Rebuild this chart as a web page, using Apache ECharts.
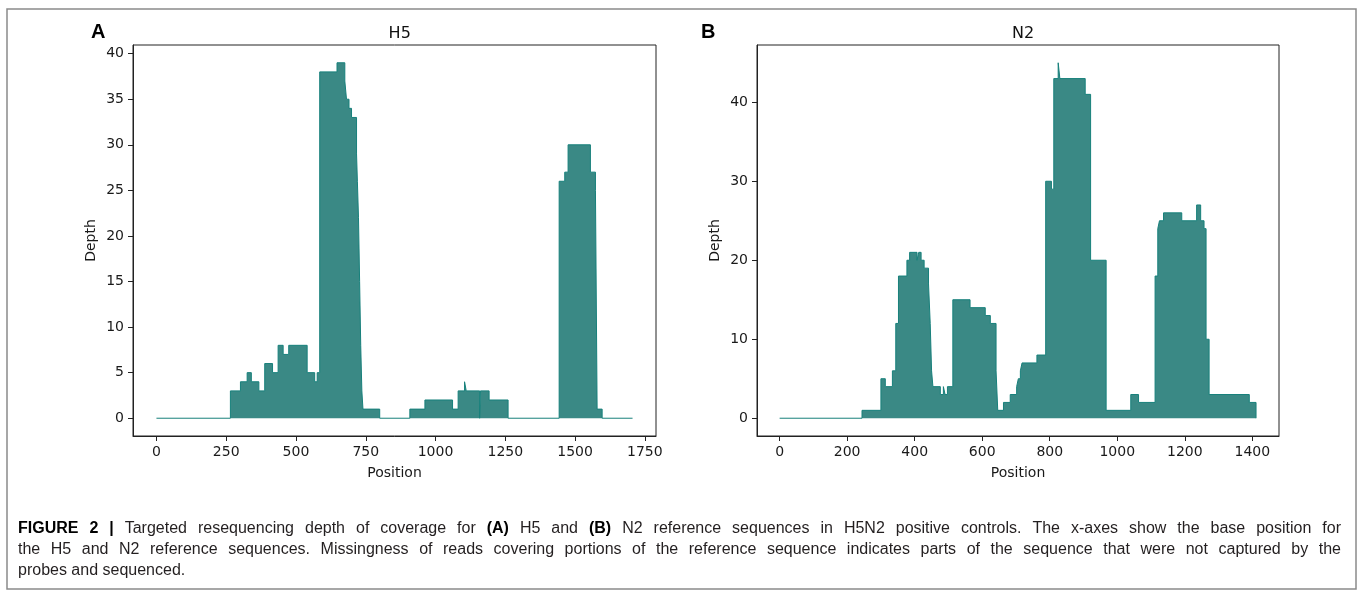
<!DOCTYPE html>
<html>
<head>
<meta charset="utf-8">
<script src="https://cdn.jsdelivr.net/npm/echarts@6/dist/echarts.min.js"></script>
<style>html,body{margin:0;padding:0;background:#fff;}#c{width:1358px;height:591px;}</style>
</head>
<body>
<div id="c"></div>
<script>
// ---- Data ----
// H5 coverage: position where depth changes, and depth from that position on
const h5Pos   = [0, 265, 301, 325, 340, 367, 388, 416, 436, 454, 474, 540, 567, 576, 585, 647, 675, 681, 690, 699, 717, 720, 724, 728, 732, 736, 740, 800, 908, 962, 1061, 1081, 1104, 1110, 1158, 1161, 1192, 1260, 1443, 1463, 1475, 1555, 1573, 1579, 1597, 1706];
const h5Depth = [0,   3,   4,   5,   4,   3,   6,   5,   8,   7,   8,   5,   4,   5,  38,  39,  37,  35,  34,  33,  29,  26,  22,  15,   8,   3,   1,   0,   1,   2,    1,    3,    4,    3,    0,    3,    2,    0,   26,   27,   30,   27,   25,    1,    0,    0];
// N2 coverage
const n2Pos   = [0, 244, 300, 313, 334, 344, 352, 377, 385, 407, 412, 419, 428, 441, 446, 450, 454, 476, 485, 490, 497, 513, 564, 609, 624, 641, 646, 663, 683, 702, 707, 713, 718, 762, 788, 805, 812, 825, 830, 905, 921, 967, 1040, 1063, 1112, 1120, 1125, 1137, 1191, 1235, 1247, 1257, 1263, 1272, 1391, 1411];
const n2Depth = [0,   1,   5,   4,   6,  12,  18,  20,  21,  20,  21,  20,  19,  17,  12,   6,   4,   3,   4,   3,   4,  15,  14,  13,  12,   6,   1,   2,   3,   4,   5,   6,   7,   8,  30,  29,  43,  45,  43,  41,  20,   1,    3,    2,   18,   24,   25,   26,   25,   27,   25,   24,   10,    3,    2,    0];
// Tick labels
const h5XTicks = [0, 250, 500, 750, 1000, 1250, 1500, 1750];
const h5YTicks = [0, 5, 10, 15, 20, 25, 30, 35, 40];
const n2XTicks = [0, 200, 400, 600, 800, 1000, 1200, 1400];
const n2YTicks = [0, 10, 20, 30, 40];
const titles = ['H5', 'N2'];
const panelLetters = ['A', 'B'];
// Caption lines; words wrapped in *...* are bold
const captionLines = [
  '*FIGURE* *2* *|* Targeted resequencing depth of coverage for *(A)* H5 and *(B)* N2 reference sequences in H5N2 positive controls. The x-axes show the base position for',
  'the H5 and N2 reference sequences. Missingness of reads covering portions of the reference sequence indicates parts of the sequence that were not captured by the',
  'probes and sequenced.'
];

// ---- Build chart ----
const fillColor = '#3a8985';
const edgeColor = '#17807b';
const tickFont = {fontFamily: 'DejaVu Sans', fontSize: 14, color: '#1a1a1a'};

function pairs(pos, dep) { return pos.map((p, i) => [p, dep[i]]); }

function xAxis(gridIndex, min, max, ticks) {
  return {
    type: 'value', gridIndex, min, max,
    name: 'Position', nameLocation: 'middle', nameGap: 30,
    nameTextStyle: {fontFamily: 'DejaVu Sans', fontSize: 14, color: '#1a1a1a'},
    axisLine: {show: true, onZero: false, lineStyle: {color: '#222', width: 1}},
    axisTick: {show: true, length: 5, customValues: ticks, lineStyle: {color: '#222'}},
    axisLabel: Object.assign({margin: 9, customValues: ticks, formatter: v => String(v)}, tickFont),
    splitLine: {show: false}
  };
}
function yAxis(gridIndex, min, max, ticks) {
  return {
    type: 'value', gridIndex, min, max,
    name: 'Depth', nameLocation: 'middle', nameGap: 35, nameRotate: 90,
    nameTextStyle: {fontFamily: 'DejaVu Sans', fontSize: 14, color: '#1a1a1a'},
    axisLine: {show: true, onZero: false, lineStyle: {color: '#222', width: 1}},
    axisTick: {show: true, length: 5, customValues: ticks, lineStyle: {color: '#222'}},
    axisLabel: Object.assign({margin: 9, customValues: ticks, formatter: v => String(v)}, tickFont),
    splitLine: {show: false}
  };
}

// Justified caption layout (word positions measured with canvas)
const capFamily = '"Liberation Sans"';
const capSize = 16;
const capColor = '#231f20';
const capLeft = 18, capRight = 1341, capTop = 521, capLineStep = 21;
const mctx = document.createElement('canvas').getContext('2d');
function fontFor(bold) { return (bold ? 'bold ' : '') + capSize + 'px ' + capFamily; }
const captionGraphics = [];
captionLines.forEach((line, li) => {
  const words = line.split(' ').map(w => {
    const bold = w.startsWith('*') && w.endsWith('*');
    const t = bold ? w.slice(1, -1) : w;
    mctx.font = fontFor(bold);
    return {t, bold, w: mctx.measureText(t).width};
  });
  mctx.font = fontFor(false);
  const normalSpace = mctx.measureText(' ').width;
  const total = words.reduce((s, w) => s + w.w, 0);
  const last = li === captionLines.length - 1;
  const gap = last ? normalSpace : (capRight - capLeft - total) / (words.length - 1);
  let x = capLeft;
  words.forEach(w => {
    captionGraphics.push({type: 'text', x, y: capTop + li * capLineStep, silent: true,
      style: {text: w.t, font: fontFor(w.bold), fill: w.bold ? '#000' : capColor}});
    x += w.w + gap;
  });
});

const chart = echarts.init(document.getElementById('c'), null, {renderer: 'canvas'});

chart.setOption({
  animation: false,
  backgroundColor: '#fff',
  title: [
    {text: titles[0], left: 394.7, top: 21, textAlign: 'center', textStyle: {fontFamily: 'DejaVu Sans', fontSize: 16, fontWeight: 'normal', color: '#111'}},
    {text: titles[1], left: 1018, top: 21, textAlign: 'center', textStyle: {fontFamily: 'DejaVu Sans', fontSize: 16, fontWeight: 'normal', color: '#111'}}
  ],
  grid: [
    {left: 133, top: 45, width: 523, height: 391, show: true, borderColor: '#222', borderWidth: 1, containLabel: false},
    {left: 757, top: 45, width: 522, height: 391, show: true, borderColor: '#222', borderWidth: 1, containLabel: false}
  ],
  xAxis: [xAxis(0, -84, 1790, h5XTicks), xAxis(1, -67, 1479, n2XTicks)],
  yAxis: [yAxis(0, -1.95, 40.95, h5YTicks), yAxis(1, -2.25, 47.25, n2YTicks)],
  series: [
    {type: 'line', xAxisIndex: 0, yAxisIndex: 0, step: 'end', showSymbol: false, data: pairs(h5Pos, h5Depth),
     lineStyle: {color: edgeColor, width: 1}, areaStyle: {color: fillColor, opacity: 1}},
    {type: 'line', xAxisIndex: 1, yAxisIndex: 1, step: 'end', showSymbol: false, data: pairs(n2Pos, n2Depth),
     lineStyle: {color: edgeColor, width: 1}, areaStyle: {color: fillColor, opacity: 1}}
  ],
  graphic: [
    {type: 'rect', shape: {x: 7, y: 9, width: 1349, height: 580}, style: {fill: 'none', stroke: '#8a8a8a', lineWidth: 1.5}, silent: true},
    {type: 'text', left: 91, top: 22, style: {text: panelLetters[0], font: 'bold 20px "Liberation Sans"', fill: '#000'}},
    {type: 'text', left: 701, top: 22, style: {text: panelLetters[1], font: 'bold 20px "Liberation Sans"', fill: '#000'}}
  ].concat(captionGraphics)
});
</script>
</body>
</html>
